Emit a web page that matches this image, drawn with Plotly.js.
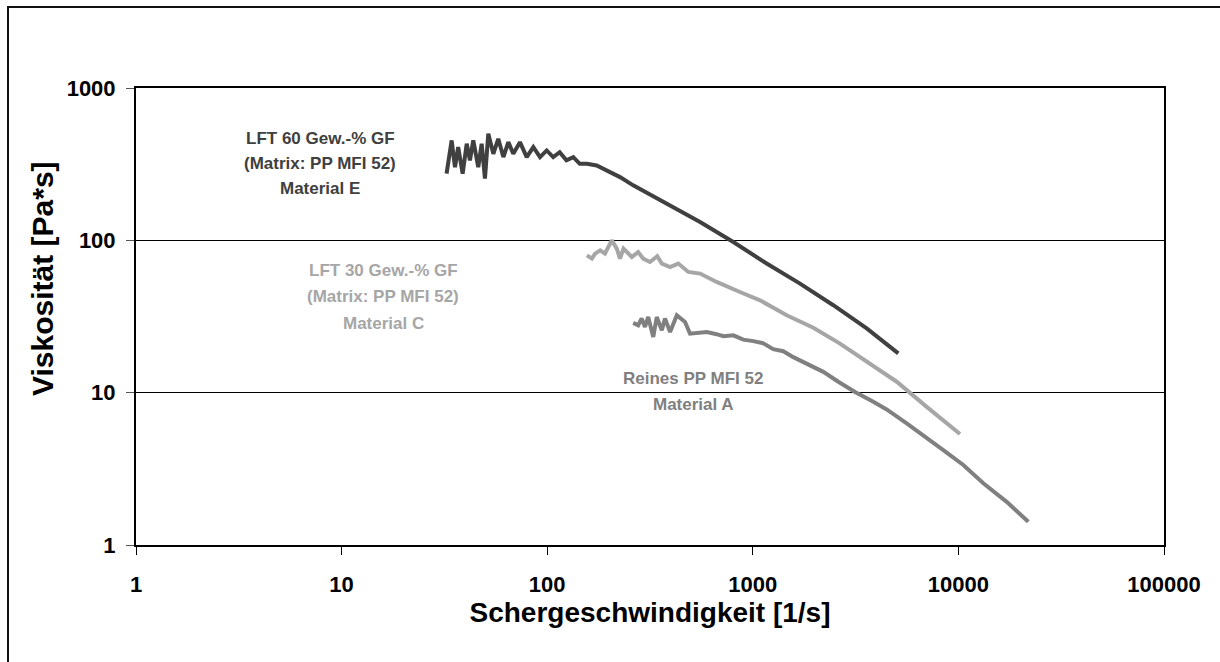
<!DOCTYPE html>
<html>
<head>
<meta charset="utf-8">
<script src="https://cdn.plot.ly/plotly-3.0.1.min.js"></script>
<style>html,body{margin:0;padding:0;background:#fff;}#chart{width:1220px;height:662px;}</style>
</head>
<body>
<div id="chart"></div>
<script>
// Material E: LFT 60 Gew.-% GF (Matrix: PP MFI 52)
const shearE = [32.4,34.3,35.6,36.9,38.8,40.6,42.1,43.7,46.2,48.0,49.8,51.7,54.7,57.8,61.2,64.7,68.4,73.7,79.5,85.6,92.3,99.4,107,115,124,134,144,156,174,195,226,262,381,554,804,1168,1697,2464,3581,5101];
const viscE  = [274,453,302,409,274,431,335,453,302,431,254,501,370,464,352,441,370,441,352,409,352,389,352,379,335,352,318,318,310,288,260,229.5,174,132,97.5,70.4,52.0,37.5,26.4,18.1];

// Material C: LFT 30 Gew.-% GF (Matrix: PP MFI 52)
const shearC = [156,165,171,181,191,206,218,226,235,258,277,293,316,343,361,396,434,486,554,667,866,1084,1462,1970,2656,3581,5012,7012,10180];
const viscC  = [79.7,75.9,81.8,86.0,81.8,100,88.2,75.9,88.2,77.7,83.8,75.9,72.1,78.6,70.4,66.8,70.4,62.0,60.5,53.3,45.8,40.4,32.2,26.7,21.0,15.9,11.8,8.07,5.35];

// Material A: Reines PP MFI 52
const shearA = [262,277,288,299,310,328,341,361,374,396,427,468,495,597,667,719,804,899,1006,1125,1258,1407,1574,1829,2203,2606,3142,3856,4480,5604,6750,8445,10566,13217,17175,21878];
const viscA  = [28.7,27.7,30.7,27.0,31.4,23.2,31.4,25.7,30.7,25.0,32.2,29.1,24.4,25.0,24.2,23.5,23.8,22.3,21.8,21.1,19.3,18.7,17.1,15.4,13.7,11.8,10.1,8.71,7.76,6.28,5.26,4.20,3.35,2.54,1.92,1.42];

const xTickVals = [1,10,100,1000,10000,100000];
const xTickText = ['1','10','100','1000','10000','100000'];
const yTickVals = [1,10,100,1000];
const yTickText = ['1','10','100','1000'];

const xTitle = 'Schergeschwindigkeit [1/s]';
const yTitle = 'Viskosität [Pa*s]';
const labelE = ['LFT 60 Gew.-% GF','(Matrix: PP MFI 52)','Material E'];
const labelC = ['LFT 30 Gew.-% GF','(Matrix: PP MFI 52)','Material C'];
const labelA = ['Reines PP MFI 52','Material A'];

const colE = '#404040', colC = '#a6a6a6', colA = '#808080';
const FONT = '"Liberation Sans", Arial, sans-serif';

const traces = [
  {x: shearE, y: viscE, mode: 'lines', line: {color: colE, width: 4}, name: 'Material E'},
  {x: shearC, y: viscC, mode: 'lines', line: {color: colC, width: 4}, name: 'Material C'},
  {x: shearA, y: viscA, mode: 'lines', line: {color: colA, width: 4}, name: 'Material A'}
];

// plot area in pixels: left 136, right 1164, top 88, bottom 545
const PW = 1028, PH = 457;
function px(xp){ return (xp-136)/PW; }
function py(yp){ return (545-yp)/PH; }

const annotations = [];
function addLabel(lines, cx, y0, dy, color){
  lines.forEach((t,i)=>{
    annotations.push({xref:'paper', yref:'paper', x: px(cx), y: py(y0+i*dy), text: t,
      showarrow:false, xanchor:'center', yanchor:'middle',
      font:{family:FONT, size:17, color:color, weight:'bold'}});
  });
}
addLabel(labelE, 320, 138, 25, colE);
addLabel(labelC, 383, 270, 26.5, colC);
addLabel(labelA, 693, 378, 26, colA);

// y-axis title (placed as rotated text, offset upward like the original)
annotations.push({xref:'paper', yref:'paper', x: px(42), y: py(279), text: yTitle,
  textangle: -90, showarrow:false, xanchor:'center', yanchor:'middle',
  font:{family:FONT, size:30, color:'#000', weight:'bold'}});

const layout = {
  width: 1220, height: 662,
  margin: {l:136, r:56, t:88, b:117},
  paper_bgcolor: '#fff', plot_bgcolor: '#fff',
  showlegend: false,
  font: {family: FONT, color: '#000'},
  xaxis: {
    type: 'log', range: [0, 5],
    tickvals: xTickVals, ticktext: xTickText,
    ticks: 'outside', ticklen: 8, tickwidth: 1, tickcolor: '#000',
    showline: true, linecolor: '#000', linewidth: 2, mirror: true,
    showgrid: false, zeroline: false,
    tickfont: {family: FONT, size: 22, color: '#000', weight: 'bold'},
    ticklabelstandoff: 11,
    title: {text: xTitle, standoff: 2,
      font: {family: FONT, size: 28, color: '#000', weight: 'bold'}}
  },
  yaxis: {
    type: 'log', range: [0, 3],
    tickvals: yTickVals, ticktext: yTickText,
    ticks: 'outside', ticklen: 8, tickwidth: 1, tickcolor: '#555',
    showline: true, linecolor: '#000', linewidth: 2, mirror: true,
    showgrid: true, gridcolor: '#000', gridwidth: 1, zeroline: false,
    tickfont: {family: FONT, size: 22, color: '#000', weight: 'bold'},
    ticklabelstandoff: 6
  },
  annotations: annotations,
  shapes: [{type:'rect', xref:'paper', yref:'paper', x0: px(8), x1: px(1260), y0: py(720), y1: py(7),
    line:{color:'#111', width:2}, fillcolor:'rgba(0,0,0,0)', layer:'below'}]
};

Plotly.newPlot('chart', traces, layout, {staticPlot: true, displayModeBar: false});
</script>
</body>
</html>
